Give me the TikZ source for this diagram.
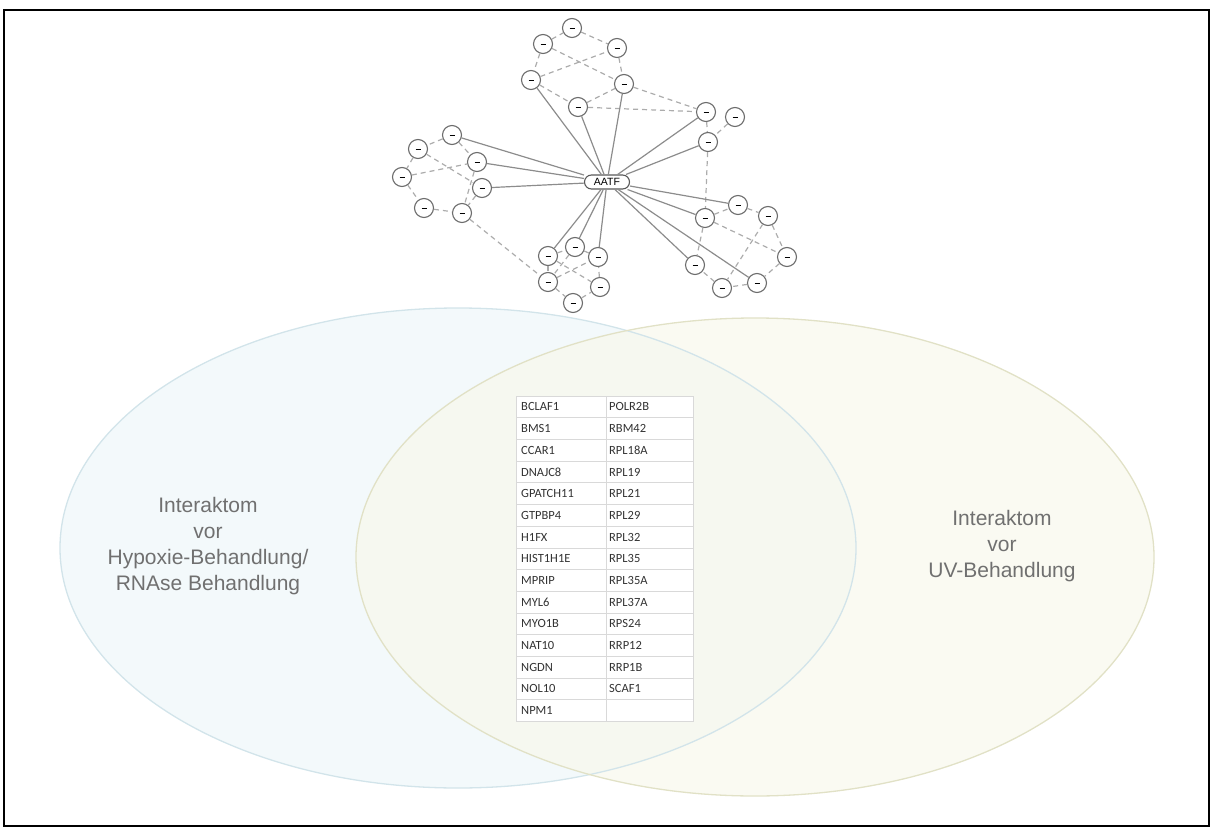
\documentclass[tikz,border=0pt]{standalone}
\usepackage{xcolor}
\usepackage{fontspec}
\setmainfont{Liberation Sans}
\newfontfamily\tabfont{Carlito}
\usepackage{tikz}
\usetikzlibrary{shapes,arrows.meta}
\definecolor{hypoline}{HTML}{D2E4EA}
\definecolor{hypofill}{HTML}{F3F9FB}
\definecolor{uvline}{HTML}{E1E1C6}
\definecolor{uvfill}{HTML}{F8F8EC}
\definecolor{labelgray}{HTML}{707070}
\tikzset{
  prot/.style={circle, draw=gray!85!black, line width=1.1pt, fill=white, minimum size=19pt, inner sep=0pt},
  hub/.style={rounded corners=7pt, draw=gray!70!black, line width=1.1pt, fill=white, minimum width=45pt, minimum height=14pt, inner sep=1pt, font=\fontsize{10.5}{12}\selectfont},
  link/.style={draw=gray!90, line width=1.2pt},
  weak/.style={draw=gray!65, line width=1.2pt, dash pattern=on 5pt off 4pt},
  cell/.style={anchor=west, inner sep=0pt, text=black!80, font=\tabfont\fontsize{12.5}{14}\selectfont},
  vennlabel/.style={align=center, text=labelgray, font=\fontsize{21}{26}\selectfont}
}

\begin{document}
\begin{tikzpicture}[x=1pt,y=-1pt]
\useasboundingbox (0,0) rectangle (1215,832);

% Venn
\fill[hypofill] (458,548) ellipse [x radius=398, y radius=240];
\fill[uvfill, fill opacity=0.7] (755,557) ellipse [x radius=399, y radius=239];
\draw[hypoline, line width=1.3pt] (458,548) ellipse [x radius=398, y radius=240];
\draw[uvline, line width=1.3pt] (755,557) ellipse [x radius=399, y radius=239];

\node[vennlabel] (hypo) at (208,546) {Interaktom\\vor\\Hypoxie-Behandlung/\\RNAse Behandlung};
\node[vennlabel] (uv) at (1002,546) {Interaktom\\vor\\UV-Behandlung};

% table of shared proteins
\fill[white] (516,396) rectangle (693,721.5);
\foreach \k in {1,...,14}
  \draw[black!15, line width=0.8pt] (516,396+\k*21.7) -- (693,396+\k*21.7);
\draw[black!15, line width=0.8pt] (516,396) rectangle (693,721.5);
\draw[black!15, line width=0.8pt] (606,396) -- (606,721.5);
\foreach \l/\r [count=\i] in {BCLAF1/POLR2B, BMS1/RBM42, CCAR1/RPL18A, DNAJC8/RPL19,
    GPATCH11/RPL21, GTPBP4/RPL29, H1FX/RPL32, HIST1H1E/RPL35, MPRIP/RPL35A,
    MYL6/RPL37A, MYO1B/RPS24, NAT10/RRP12, NGDN/RRP1B, NOL10/SCAF1, NPM1/{}}
{
  \node[cell] (left\i) at (521,385.15+\i*21.7) {\l};
  \node[cell] (right\i) at (609,385.15+\i*21.7) {\r};
}

% AATF network
\node[hub] (aatf) at (607,182) {AATF};
\foreach \n/\x/\y in {n1/572/28, n2/543/44, n3/617/48, n4/531/80, n5/624/84, n6/578/107,
    n7/706/112, n8/735/117, n9/708/142,
    l1/452/135, l2/418/149, l3/477/162, l4/402/177, l5/482/188, l6/424/208, l7/462/213,
    b1/575/247, b2/548/256, b3/598/257, b4/548/282, b5/600/287, b6/573/303,
    r1/738/205, r2/705/218, r3/768/216, r4/787/257, r5/695/265, r6/757/283, r7/722/288}
  \node[prot] (\n) at (\x,\y) {\rule{5pt}{0.7pt}};

\foreach \a/\b in {n2/n1, n1/n3, n2/n4, n3/n5, n4/n3, n2/n5, n4/n6, n6/n5, n6/n7, n5/n7,
    n7/n9, n8/n9, n9/r2,
    l1/l2, l2/l4, l4/l6, l6/l7, l4/l3, l2/l5, l1/l3, l3/l7, l5/l7, l7/b4,
    b2/b4, b4/b6, b6/b5, b5/b3, b2/b5, b4/b3, b1/b4, b2/b1, b1/b3,
    r2/r1, r1/r3, r3/r4, r4/r6, r6/r7, r7/r5, r2/r5, r2/r4, r3/r7}
  \draw[weak] (\a) -- (\b);

\foreach \b in {n4,n6,n5,n7,n9,l1,l3,l5,b2,b1,b3,r1,r2,r5,r6}
  \draw[link] (aatf) -- (\b);

% frame
\draw[black, line width=1.3pt] (4,10) rectangle (1209,826);
\end{tikzpicture}
\end{document}
